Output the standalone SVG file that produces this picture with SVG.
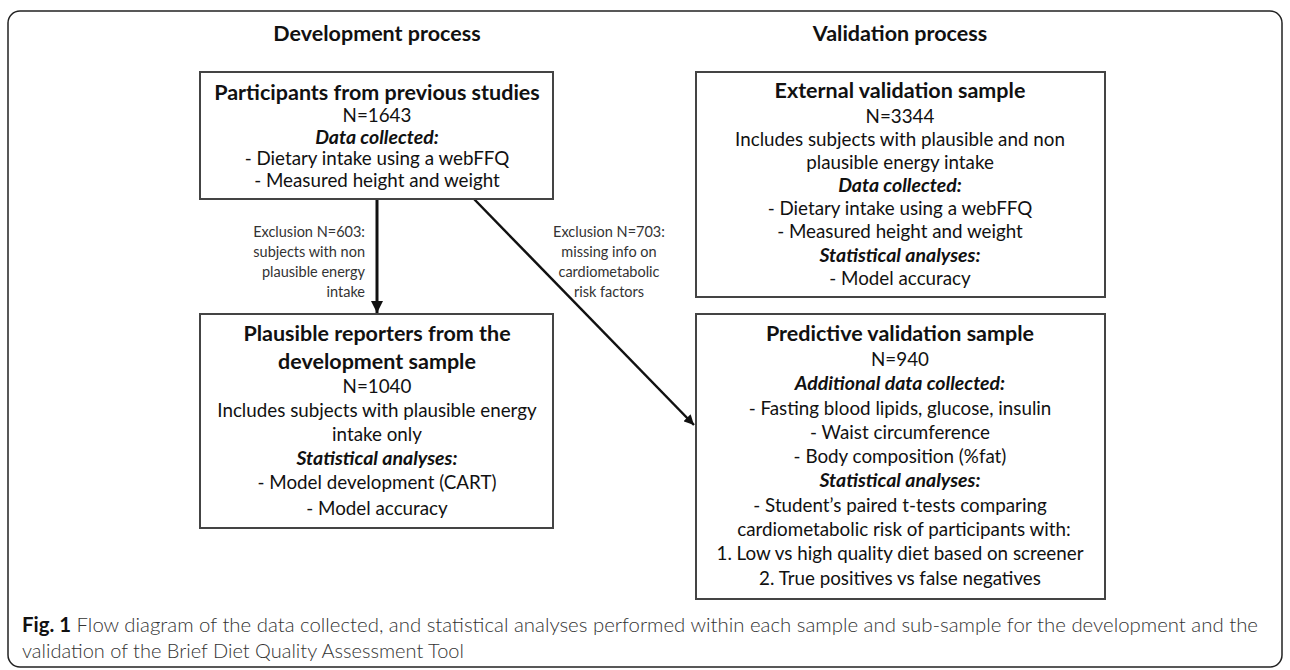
<svg xmlns="http://www.w3.org/2000/svg" width="1290" height="670" viewBox="0 0 1290 670">
<style>
.frame{fill:#fff;stroke:#222;stroke-width:1.5}
.box{fill:#fff;stroke:#444;stroke-width:2}
text{font-family:Lato,"Liberation Sans",sans-serif;fill:#111;text-anchor:middle}
.hd{font-size:21.5px;font-weight:bold}
.tt{font-size:21.5px;font-weight:bold}
.bd{font-size:18.8px}
.bi{font-size:19.5px;font-weight:bold;font-style:italic}
.lb{font-size:14.5px;fill:#333}
.cap{font-size:20px;text-anchor:start;fill:#333;font-weight:300}
.conn{stroke:#111;fill:none}
</style>
<defs>
<marker id="ah" viewBox="0 0 10 10" refX="10" refY="5" markerWidth="4" markerHeight="4" orient="auto" markerUnits="strokeWidth">
<path d="M0,0 L10,5 L0,10 z" fill="#111"/>
</marker>
</defs>
<rect class="frame" x="8" y="11" width="1274" height="656" rx="12"/>
<text class="hd" x="377" y="41">Development process</text>
<text class="hd" x="900" y="41">Validation process</text>

<g id="connectors">
<line class="conn" x1="377" y1="199" x2="377" y2="313" stroke-width="3" marker-end="url(#ah)"/>
<line class="conn" x1="474" y1="199" x2="694" y2="425" stroke-width="2.5" marker-end="url(#ah)"/>
<g id="label-603">
<text class="lb" x="365" y="237" style="text-anchor:end">Exclusion N=603:</text>
<text class="lb" x="365" y="257" style="text-anchor:end">subjects with non</text>
<text class="lb" x="365" y="277" style="text-anchor:end">plausible energy</text>
<text class="lb" x="365" y="297" style="text-anchor:end">intake</text>
</g>
<g id="label-703">
<text class="lb" x="609" y="237">Exclusion N=703:</text>
<text class="lb" x="609" y="257">missing info on</text>
<text class="lb" x="609" y="277">cardiometabolic</text>
<text class="lb" x="609" y="297">risk factors</text>
</g>
</g>

<g id="participants">
<rect class="box" x="200" y="72" width="353" height="127"/>
<text class="tt" x="377" y="100">Participants from previous studies</text>
<text class="bd" x="377" y="122">N=1643</text>
<text class="bi" x="377" y="144">Data collected:</text>
<text class="bd" x="377" y="165">- Dietary intake using a webFFQ</text>
<text class="bd" x="377" y="187">- Measured height and weight</text>
</g>

<g id="external">
<rect class="box" x="696" y="72" width="409" height="225"/>
<text class="tt" x="900" y="98">External validation sample</text>
<text class="bd" x="900" y="123">N=3344</text>
<text class="bd" x="900" y="146">Includes subjects with plausible and non</text>
<text class="bd" x="900" y="169">plausible energy intake</text>
<text class="bi" x="900" y="192">Data collected:</text>
<text class="bd" x="900" y="215">- Dietary intake using a webFFQ</text>
<text class="bd" x="900" y="238">- Measured height and weight</text>
<text class="bi" x="900" y="262">Statistical analyses:</text>
<text class="bd" x="900" y="285">- Model accuracy</text>
</g>

<g id="plausible">
<rect class="box" x="200" y="314" width="353" height="214"/>
<text class="tt" x="377" y="341">Plausible reporters from the</text>
<text class="tt" x="377" y="369">development sample</text>
<text class="bd" x="377" y="393">N=1040</text>
<text class="bd" x="377" y="417">Includes subjects with plausible energy</text>
<text class="bd" x="377" y="441">intake only</text>
<text class="bi" x="377" y="465">Statistical analyses:</text>
<text class="bd" x="377" y="489">- Model development (CART)</text>
<text class="bd" x="377" y="515">- Model accuracy</text>
</g>

<g id="predictive">
<rect class="box" x="696" y="314" width="409" height="285"/>
<text class="tt" x="900" y="341">Predictive validation sample</text>
<text class="bd" x="900" y="366">N=940</text>
<text class="bi" x="900" y="390">Additional data collected:</text>
<text class="bd" x="900" y="415">- Fasting blood lipids, glucose, insulin</text>
<text class="bd" x="900" y="439">- Waist circumference</text>
<text class="bd" x="900" y="463">- Body composition (%fat)</text>
<text class="bi" x="900" y="487">Statistical analyses:</text>
<text class="bd" x="900" y="512">- Student’s paired t-tests comparing</text>
<text class="bd" x="904" y="536">cardiometabolic risk of participants with:</text>
<text class="bd" x="900" y="560">1. Low vs high quality diet based on screener</text>
<text class="bd" x="900" y="585">2. True positives vs false negatives</text>
</g>

<g id="caption">
<text class="cap" x="22" y="632" textLength="1236" lengthAdjust="spacingAndGlyphs"><tspan font-weight="bold" fill="#111">Fig. 1</tspan> Flow diagram of the data collected, and statistical analyses performed within each sample and sub-sample for the development and the</text>
<text class="cap" x="22" y="658">validation of the Brief Diet Quality Assessment Tool</text>
</g>
</svg>
